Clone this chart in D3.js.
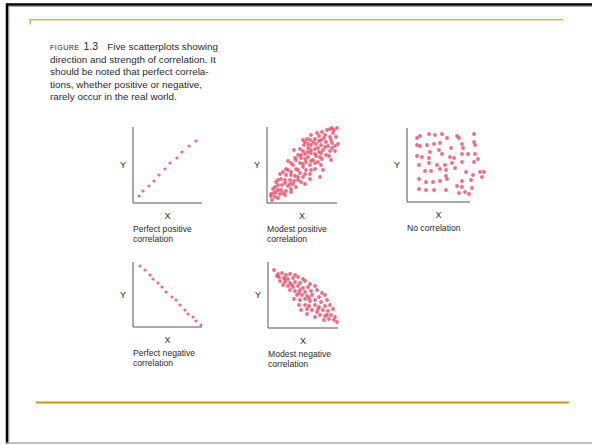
<!DOCTYPE html>
<html>
<head>
  <title>Five scatterplots showing direction and strength of correlation</title>
  <style>
    body { margin: 0; background: #fff; }
    svg { display: block; }
    text { font-family: "Liberation Sans", Arial, sans-serif; fill: #2a2a2a; }
  </style>
  <script src="https://d3js.org/d3.v7.min.js"></script>
</head>
<body>
  <div id="chart"></div>
  <script>
    // caption of the figure
    const figureLabel = "FIGURE";
    const figureNumber = "1.3";
    const captionLines = [
      "Five scatterplots showing",
      "direction and strength of correlation. It",
      "should be noted that perfect correla-",
      "tions, whether positive or negative,",
      "rarely occur in the real world."
    ];

    // points, units = roughly px from the origin of each plot
    const perfectPositive = [[6,7],[10,12],[16,17],[21,22],[26,28],[32,34],[37,40],[44,45],[49,51],[56,57],[63,62]];

    const modestPositive = [
      [65,75],[70,75],[60,73],[55,71],[66,70],[58,68],[52,67],[63,66],[69,66],[48,64],
      [43,63],[54,63],[38,61],[59,61],[65,60],[49,59],[44,58],[37,58],[54,58],[61,57],
      [68,57],[41,55],[48,54],[33,54],[27,53],[56,53],[63,52],[68,52],[52,51],[44,50],
      [38,49],[31,48],[59,48],[49,47],[41,46],[34,45],[28,45],[55,44],[46,43],[64,43],
      [21,42],[39,41],[33,40],[48,40],[26,38],[43,38],[54,38],[36,36],[29,34],[19,34],
      [48,34],[39,33],[24,31],[33,30],[13,29],[43,29],[19,28],[28,27],[36,26],[53,26],
      [14,24],[23,23],[31,23],[9,21],[18,20],[26,19],[38,19],[11,18],[21,17],[29,16],
      [6,14],[14,13],[19,12],[9,11],[24,11],[4,9],[13,9],[18,8],[8,6],[5,3],
      [67,73],[63,74],[50,70],[44,68],[40,64],[36,63],[57,65],[64,63],[52,62],[46,61],
      [41,59],[71,59],[58,56],[51,55],[44,53],[36,52],[65,55],[54,50],[48,49],[41,51],
      [34,48],[62,47],[53,46],[38,44],[29,43],[44,42],[51,41],[36,39],[24,40],[56,33],
      [44,33],[31,33],[21,33],[16,31],[38,29],[24,28],[31,26],[43,24],[18,23],[11,23],
      [27,22],[34,21],[23,19],[15,18],[8,16],[24,14],[11,13],[7,10],[16,10],[4,7],[11,5]
    ];

    const noCorrelation = [
      [10,64],[13,66],[22,68],[28,67],[35,68],[40,64],[50,66],[52,64],[67,68],[55,58],
      [67,60],[10,57],[13,56],[20,57],[27,58],[33,59],[44,54],[56,54],[68,57],[23,50],
      [32,52],[10,46],[15,45],[35,48],[43,45],[55,48],[61,48],[68,48],[22,44],[47,44],
      [71,43],[12,37],[22,39],[30,37],[38,37],[45,39],[55,40],[67,40],[48,34],[33,33],
      [18,31],[24,31],[39,32],[59,30],[73,30],[77,30],[39,26],[66,27],[12,23],[40,23],
      [55,21],[75,25],[19,20],[26,20],[33,21],[64,22],[12,13],[19,12],[27,12],[39,12],
      [50,16],[55,15],[65,14],[52,9],[58,10],[62,8]
    ];

    const perfectNegative = [[7,61],[12,57],[17,52],[20,48],[25,44],[29,40],[33,35],[39,30],[43,27],[47,22],[52,17],[55,13],[60,10],[63,6],[68,2]];

    const modestNegative = [
      [6,58],[10,54],[14,55],[18,53],[22,54],[27,53],[11,51],[16,50],[20,49],[25,50],
      [30,51],[35,49],[12,47],[17,46],[22,45],[27,46],[32,45],[37,47],[42,44],[15,43],
      [20,42],[25,41],[30,42],[35,40],[40,41],[47,42],[22,38],[27,37],[32,38],[37,36],
      [43,37],[49,38],[54,35],[29,33],[34,33],[39,32],[44,33],[51,31],[57,33],[26,29],
      [32,28],[37,29],[42,27],[47,28],[53,26],[59,28],[31,23],[37,23],[41,22],[47,23],
      [51,21],[57,22],[62,23],[33,18],[44,18],[49,16],[55,18],[60,17],[65,19],[39,14],
      [52,13],[57,12],[63,13],[67,11],[47,11],[61,9],[66,8],[69,6],[56,8],[17,49],
      [9,52],[24,43],[31,35],[41,30],[50,19],[39,19],[59,13]
    ];

    const plotCaptions = [
      ["Perfect positive", "correlation"],
      ["Modest positive", "correlation"],
      ["No correlation"],
      ["Perfect negative", "correlation"],
      ["Modest negative", "correlation"]
    ];

    const W = 592, H = 445;
    const svg = d3.select("#chart").append("svg").attr("width", W).attr("height", H);

    // slide frame
    svg.append("line").attr("x1", 7).attr("x2", W).attr("y1", 4.5).attr("y2", 4.5)
      .attr("stroke", "#000").attr("stroke-width", 2.5);
    svg.append("line").attr("x1", 8).attr("x2", W).attr("y1", 6.3).attr("y2", 6.3)
      .attr("stroke", "#888").attr("stroke-width", 1);
    svg.append("line").attr("x1", 7).attr("x2", 7).attr("y1", 3.3).attr("y2", 444)
      .attr("stroke", "#000").attr("stroke-width", 2.5);
    svg.append("line").attr("x1", 8.8).attr("x2", 8.8).attr("y1", 6).attr("y2", 443)
      .attr("stroke", "#888").attr("stroke-width", 1);
    svg.append("line").attr("x1", 6).attr("x2", W).attr("y1", 443).attr("y2", 443)
      .attr("stroke", "#aaa").attr("stroke-width", 1.5);

    // gold rules
    svg.append("line").attr("x1", 30).attr("x2", 563).attr("y1", 19.8).attr("y2", 19.8)
      .attr("stroke", "#e0b54a").attr("stroke-width", 1.6);
    svg.append("line").attr("x1", 30.2).attr("x2", 30.2).attr("y1", 19).attr("y2", 24.5)
      .attr("stroke", "#d9a532").attr("stroke-width", 1.3);
    svg.append("line").attr("x1", 36).attr("x2", 569).attr("y1", 402.5).attr("y2", 402.5)
      .attr("stroke", "#c8960c").attr("stroke-width", 2);

    // figure caption
    const cap = svg.append("g").attr("transform", "translate(50,0)");
    const first = cap.append("text").attr("y", 50).attr("font-size", 9.9);
    first.append("tspan").attr("font-size", 7.2).attr("letter-spacing", 0.4).text(figureLabel);
    first.append("tspan").attr("dx", 4).attr("font-size", 10.5).text(figureNumber);
    first.append("tspan").attr("dx", 9).text(captionLines[0]);
    captionLines.slice(1).forEach((t, i) => {
      cap.append("text").attr("y", 62.8 + i * 12.4).attr("font-size", 9.9).text(t);
    });

    // panels layout
    const panels = [
      { data: perfectPositive, left: 133, right: 202, top: 127, bottom: 203, xMax: 69, yMax: 76, r: 1.6 },
      { data: modestPositive, left: 267, right: 337, top: 127, bottom: 203, xMax: 70, yMax: 76, r: 1.9 },
      { data: noCorrelation, left: 407, right: 470, top: 128, bottom: 202, xMax: 63, yMax: 74, r: 1.9 },
      { data: perfectNegative, left: 133, right: 202, top: 262, bottom: 327, xMax: 69, yMax: 65, r: 1.6 },
      { data: modestNegative, left: 268, right: 338, top: 262, bottom: 328, xMax: 70, yMax: 66, r: 1.9 }
    ];

    panels.forEach((p, i) => {
      const x = d3.scaleLinear().domain([0, p.xMax]).range([p.left, p.right]);
      const y = d3.scaleLinear().domain([0, p.yMax]).range([p.bottom, p.top]);
      const g = svg.append("g");

      g.append("path")
        .attr("d", `M${x(0)},${y(p.yMax)}V${y(0)}H${x(p.xMax)}`)
        .attr("fill", "none").attr("stroke", "#555").attr("stroke-width", 1);

      g.selectAll("circle").data(p.data).join("circle")
        .attr("cx", d => x(d[0]))
        .attr("cy", d => y(d[1]))
        .attr("r", p.r)
        .attr("fill", "#f0506b")
        .attr("fill-opacity", 0.85);

      g.append("text")
        .attr("x", x(0) - 10).attr("y", (y(0) + y(p.yMax)) / 2 + 3)
        .attr("text-anchor", "middle").attr("font-size", 9).text("Y");
      g.append("text")
        .attr("x", (x(0) + x(p.xMax)) / 2).attr("y", y(0) + 15.5)
        .attr("text-anchor", "middle").attr("font-size", 9).text("X");

      plotCaptions[i].forEach((t, j) => {
        g.append("text")
          .attr("x", x(0)).attr("y", y(0) + 29 + j * 10)
          .attr("font-size", 8.6).text(t);
      });
    });
  </script>
</body>
</html>
